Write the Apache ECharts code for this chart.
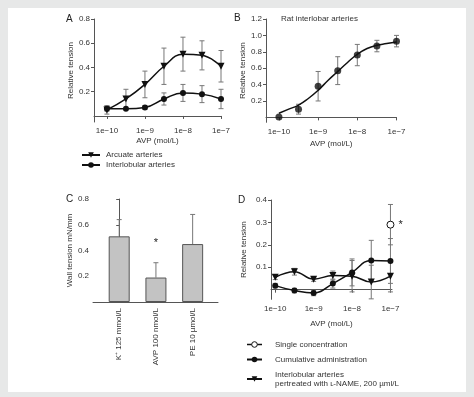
<!DOCTYPE html>
<html>
<head>
<meta charset="utf-8">
<script src="https://cdn.jsdelivr.net/npm/echarts@6/dist/echarts.min.js"></script>
<style>
  html, body { margin: 0; padding: 0; background: #e7e8e8; }
  #panel { position: absolute; left: 8px; top: 8px; width: 458px; height: 384px; background: #fff; }
  #main { position: absolute; left: 0; top: 0; width: 474px; height: 397px; }
</style>
</head>
<body>
<div id="panel"></div>
<div id="main"></div>
<script>
// dose axis, log10(mol/L)
const logDose = [-10, -9.5, -9, -8.5, -8, -7.5, -7]
const decadeTicks = [-10, -9, -8, -7]

// A
const arcuateMean = [0.05, 0.14, 0.26, 0.41, 0.51, 0.50, 0.41]
const arcuateErr = [0.035, 0.08, 0.11, 0.15, 0.14, 0.12, 0.13]
const interlobMean = [0.06, 0.06, 0.07, 0.14, 0.19, 0.18, 0.14]
const interlobErr = [0.02, 0, 0.015, 0.05, 0.07, 0.07, 0.08]

// B
const ratMean = [0.005, 0.10, 0.38, 0.57, 0.76, 0.87, 0.93]
const ratErr = [0, 0.06, 0.18, 0.17, 0.13, 0.07, 0.07]
const fitDose = [-10, -9.75, -9.5, -9.25, -9, -8.75, -8.5, -8.25, -8, -7.75, -7.5, -7.25, -7]
const ratFit = [0.05, 0.10, 0.15, 0.23, 0.33, 0.45, 0.56, 0.67, 0.77, 0.84, 0.88, 0.90, 0.92]

// C
const cLabels = ['K\u207A 125 mmol/L', 'AVP 100 nmol/L', 'PE 10 \u00B5mol/L']
const cPos = [0, 1, 2]
const cMean = [0.51, 0.19, 0.45]
const cErr = [0.13, 0.115, 0.23]
const cStar = [[1, 0.46]]

// D
const cumMean = [0.018, -0.004, -0.015, 0.027, 0.077, 0.13, 0.128]
const cumErr = [0.01, 0.01, 0.012, 0.02, 0.06, 0.09, 0.1]
const lnameMean = [0.055, 0.08, 0.047, 0.063, 0.06, 0.034, 0.06]
const lnameErr = [0.01, 0.015, 0.01, 0.02, 0.07, 0.075, 0.07]
const singleDose = [-7]
const singleMean = [0.29]
const singleErr = [0.09]

const FONT = 'Liberation Sans, Arial, sans-serif'
const TXT = '#333'
const AXIS = '#555'
const TRI = 'path://M0,0L10,0L5,9Z'
const LNAME = 'Interlobular arteries\npertreated with \u029F-NAME, 200 \u00B5ml/L'

const zip = (xs, ys) => xs.map((x, i) => [x, ys[i]])
const logLabel = v => '1e' + (v < 0 ? '\u2212' : '') + Math.abs(v)

function errorBars(idx, xs, means, errs, upOnly) {
    return {
        type: 'custom', xAxisIndex: idx, yAxisIndex: idx, z: 1, silent: true,
        data: xs.map((x, i) => [x, upOnly ? means[i] : means[i] - errs[i], means[i] + errs[i]]),
        renderItem: (params, api) => {
            const lo = api.coord([api.value(0), api.value(1)])
            const hi = api.coord([api.value(0), api.value(2)])
            if (Math.abs(hi[1] - lo[1]) < 1) return null
            const cap = 2.5
            const st = { stroke: '#777', lineWidth: 1 }
            const kids = [
                { type: 'line', shape: { x1: lo[0], y1: lo[1], x2: hi[0], y2: hi[1] }, style: st },
                { type: 'line', shape: { x1: hi[0] - cap, y1: hi[1], x2: hi[0] + cap, y2: hi[1] }, style: st }
            ]
            if (!upOnly) kids.push({ type: 'line', shape: { x1: lo[0] - cap, y1: lo[1], x2: lo[0] + cap, y2: lo[1] }, style: st })
            return { type: 'group', children: kids }
        }
    }
}

function doseAxis(idx, min, max, name, gap) {
    return {
        type: 'value', gridIndex: idx, min: min, max: max,
        name: name, nameLocation: 'middle', nameGap: gap,
        nameTextStyle: { fontSize: 8, color: TXT, fontFamily: FONT },
        axisLine: { lineStyle: { color: AXIS } },
        axisTick: { show: true, length: 3, customValues: decadeTicks, lineStyle: { color: AXIS } },
        axisLabel: { customValues: decadeTicks, formatter: logLabel, fontSize: 8, color: TXT, fontFamily: FONT, margin: 5 },
        splitLine: { show: false }
    }
}

function tensionAxis(idx, min, max, ticks, name, gap) {
    return {
        type: 'value', gridIndex: idx, min: min, max: max,
        name: name, nameLocation: 'middle', nameGap: gap,
        nameTextStyle: { fontSize: 8, color: TXT, fontFamily: FONT },
        axisLine: { show: true, lineStyle: { color: AXIS } },
        axisTick: { show: true, length: 3, customValues: ticks, lineStyle: { color: AXIS } },
        axisLabel: { customValues: ticks, formatter: v => v.toFixed(1), fontSize: 8, color: TXT, fontFamily: FONT, margin: 4 },
        splitLine: { show: false }
    }
}

const lineBase = {
    type: 'line', smooth: 0.45, color: '#111',
    lineStyle: { width: 1.5, color: '#111' }, z: 3
}

const letter = (t, x, y) => ({ text: t, left: x, top: y, padding: 0, textStyle: { fontSize: 10, fontWeight: 'normal', color: '#222' } })

const option = {
    animation: false,
    backgroundColor: 'transparent',
    textStyle: { fontFamily: FONT },
    title: [
        letter('A', 66, 14),
        letter('B', 234, 13),
        letter('C', 66, 194),
        letter('D', 238, 195),
        { text: 'Rat interlobar arteries', left: 281, top: 15, padding: 0, textStyle: { fontSize: 8, fontWeight: 'normal', color: TXT } }
    ],
    grid: [
        { left: 94, top: 19, width: 127, height: 103 },
        { left: 266, top: 19, width: 130.5, height: 103.3 },
        { left: 93, top: 199, width: 125, height: 103 },
        { left: 271, top: 200, width: 121, height: 99.3 }
    ],
    xAxis: [
        doseAxis(0, -10.34, -7, 'AVP (mol/L)', 15),
        doseAxis(1, -10.33, -7, 'AVP (mol/L)', 17),
        {
            type: 'value', gridIndex: 2, min: -0.713, max: 2.69,
            axisLine: { lineStyle: { color: AXIS } },
            axisTick: { show: false },
            axisLabel: { customValues: cPos, formatter: v => cLabels[v], rotate: 90, fontSize: 8, color: TXT, fontFamily: FONT, margin: 6 },
            splitLine: { show: false }
        },
        doseAxis(3, -10.11, -6.96, 'AVP (mol/L)', 20)
    ],
    yAxis: [
        tensionAxis(0, -0.05, 0.8, [0.2, 0.4, 0.6, 0.8], 'Relative tension', 18),
        tensionAxis(1, -0.06, 1.2, [0.2, 0.4, 0.6, 0.8, 1.0, 1.2], 'Relative tension', 18),
        tensionAxis(2, 0, 0.8, [0.2, 0.4, 0.6, 0.8], 'Wall tension mN/mm', 18),
        tensionAxis(3, -0.043, 0.4, [0.1, 0.2, 0.3, 0.4], 'Relative tension', 23)
    ],
    legend: [
        {
            left: 81, top: 151, orient: 'vertical', itemWidth: 18, itemHeight: 7, itemGap: 2, padding: 0,
            selectedMode: false,
            textStyle: { fontSize: 8, color: TXT, padding: [0, 0, 0, 1] },
            data: ['Arcuate arteries', 'Interlobular arteries']
        },
        {
            left: 246, top: 340, orient: 'vertical', itemWidth: 15, itemHeight: 7, itemGap: 6, padding: 0,
            selectedMode: false,
            textStyle: { fontSize: 8, color: TXT, lineHeight: 9, padding: [0, 0, 0, 8] },
            data: [
                { name: 'Single concentration', itemStyle: { color: '#fff', borderColor: '#111', borderWidth: 1 }, lineStyle: { color: '#111', width: 1.5 } },
                'Cumulative administration',
                LNAME
            ]
        }
    ],
    series: [
        // A
        errorBars(0, logDose, arcuateMean, arcuateErr),
        errorBars(0, logDose, interlobMean, interlobErr),
        Object.assign({}, lineBase, { name: 'Arcuate arteries', xAxisIndex: 0, yAxisIndex: 0, symbol: TRI, symbolSize: 7, data: zip(logDose, arcuateMean) }),
        Object.assign({}, lineBase, { name: 'Interlobular arteries', xAxisIndex: 0, yAxisIndex: 0, symbol: 'circle', symbolSize: 6, data: zip(logDose, interlobMean) }),
        // B
        errorBars(1, logDose, ratMean, ratErr),
        Object.assign({}, lineBase, { name: 'fit', xAxisIndex: 1, yAxisIndex: 1, showSymbol: false, smooth: true, data: zip(fitDose, ratFit) }),
        { type: 'scatter', name: 'Rat interlobar', xAxisIndex: 1, yAxisIndex: 1, symbol: 'circle', symbolSize: 7, itemStyle: { color: '#111' }, z: 4, data: zip(logDose, ratMean) },
        // C
        errorBars(2, cPos, cMean, cErr, true),
        {
            type: 'bar', xAxisIndex: 2, yAxisIndex: 2, barWidth: 21, z: 2,
            itemStyle: { color: '#c3c3c3', borderColor: '#555', borderWidth: 1 },
            data: zip(cPos, cMean)
        },
        {
            type: 'custom', xAxisIndex: 2, yAxisIndex: 2, silent: true, data: cStar,
            renderItem: (params, api) => {
                const p = api.coord([api.value(0), api.value(1)])
                return { type: 'text', x: p[0], y: p[1], style: { text: '*', fontSize: 11, fill: '#222', align: 'center', verticalAlign: 'middle', fontFamily: FONT } }
            }
        },
        // D
        errorBars(3, logDose, cumMean, cumErr),
        errorBars(3, logDose, lnameMean, lnameErr),
        errorBars(3, singleDose, singleMean, singleErr),
        Object.assign({}, lineBase, { name: 'Cumulative administration', xAxisIndex: 3, yAxisIndex: 3, symbol: 'circle', symbolSize: 6, data: zip(logDose, cumMean) }),
        Object.assign({}, lineBase, { name: LNAME, xAxisIndex: 3, yAxisIndex: 3, symbol: TRI, symbolSize: 7, data: zip(logDose, lnameMean) }),
        Object.assign({}, lineBase, {
            name: 'Single concentration', xAxisIndex: 3, yAxisIndex: 3, symbol: 'circle', symbolSize: 7, z: 5,
            itemStyle: { color: '#fff', borderColor: '#111', borderWidth: 1 },
            label: { show: true, position: 'right', distance: 4, formatter: '*', fontSize: 11, color: '#222' },
            data: zip(singleDose, singleMean)
        })
    ]
}

const chart = echarts.init(document.getElementById('main'), null, { renderer: 'canvas' })
chart.setOption(option)
</script>
</body>
</html>
